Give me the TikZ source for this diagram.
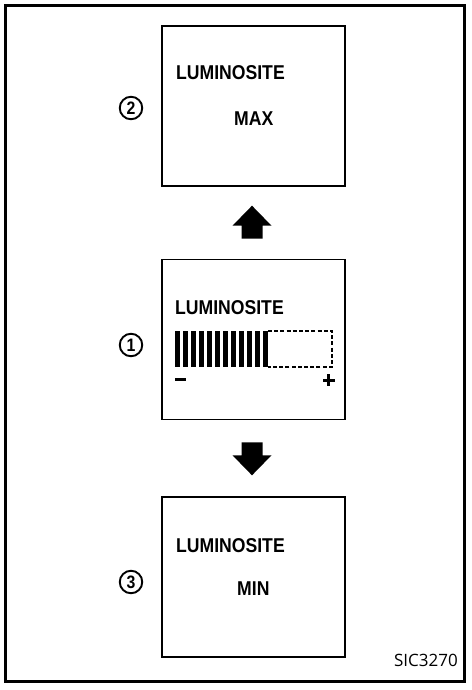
\documentclass[tikz,border=0pt]{standalone}
\usepackage{fontspec}
\setmainfont{Liberation Sans}
\newfontfamily\lcdfont{Liberation Sans Bold}[FakeStretch=0.88]
\newfontfamily\codefont{Open Sans}
\usetikzlibrary{calc}
\tikzset{
	panel/.style={draw, line width=1.6pt, minimum width=183pt, minimum height=160pt, inner sep=0pt},
	lcdtext/.style={anchor=base west, inner sep=0pt, font=\lcdfont\fontsize{20}{20}\selectfont},
	stepno/.style={circle, draw, line width=1.9pt, minimum size=22.5pt, inner sep=0pt,
		font=\lcdfont\fontsize{18}{18}\selectfont},
	segbar/.style={fill=black},
	bigarrow/.pic={
		\fill (-10.5,0) -- (-10.5,13) -- (-19.5,13) -- (0,33) -- (19.5,13) -- (10.5,13) -- (10.5,0) -- cycle;
	}
}

\begin{document}
\begin{tikzpicture}[x=1pt, y=-1pt]
	\useasboundingbox (0,0) rectangle (471,690);
	\draw[line width=2.6pt] (5.5,5.5) rectangle (464.5,681.5);
	
	% display panels
	\node[panel] (maxbox) at (253.5,106) {};
	\node[panel] (curbox) at (253.5,339.5) {};
	\node[panel] (minbox) at (253.5,577) {};
	
	\node[stepno] (no2) at (131,108) {2};
	\node[stepno] (no1) at (131,345) {1};
	\node[stepno] (no3) at (131,582) {3};
	
	\node[lcdtext] (maxlum) at (176,80) {LUMINOSITE};
	\node[lcdtext] (maxval) at (234,125) {MAX};
	\node[lcdtext] (curlum) at (175,314) {LUMINOSITE};
	\node[lcdtext] (minlum) at (176,552) {LUMINOSITE};
	\node[lcdtext] (minval) at (237,595) {MIN};
	
	% level bar
	\foreach \i in {0,...,11}
		\fill[segbar] (175+8*\i,331) rectangle ++(5,36);
	\coordinate (barend) at (268,331);
	\draw[line width=1.4pt, dash pattern=on 4pt off 2.2pt] (barend) -| (332,367) -- (268,367);
	\fill (175,377.5) rectangle (186,380.5) coordinate (minus);
	\fill (322.5,378.5) rectangle (334.5,381.5);
	\fill (327,374) rectangle (330,386) coordinate (plus);
	
	% arrows between panels
	\pic at ($(curbox.north)+(-1.5,-20)$) [rotate=180] {bigarrow};
	\pic at ($(curbox.south)+(-1.5,22)$) {bigarrow};
	
	\node[anchor=base east, inner sep=0pt, font=\codefont\fontsize{17}{17}\selectfont] (code) at (458,666) {SIC3270};
\end{tikzpicture}
\end{document}
